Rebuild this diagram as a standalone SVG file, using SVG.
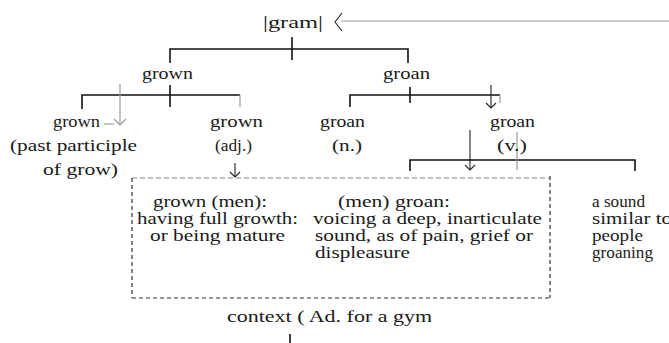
<svg xmlns="http://www.w3.org/2000/svg" width="669" height="343" viewBox="0 0 669 343">
  <style>
    text { font-family: "Liberation Serif", "Times New Roman", serif; font-size: 16px; fill: #1a1a1a; }
    .tree { stroke: #111; stroke-width: 1.6; fill: none; }
    .faint { stroke: #9a9a9a; stroke-width: 1.2; fill: none; }
    .thin { stroke: #222; stroke-width: 1.1; fill: none; }
    .box { stroke: #333; stroke-width: 1.2; fill: none; stroke-dasharray: 4 3; }
    .boxTop { stroke: #888; stroke-width: 1; fill: none; stroke-dasharray: 5 3; }
  </style>

  <rect width="669" height="343" fill="#fff"/>

  <g id="connectors">
    <!-- incoming pointer to the root -->
    <line class="faint" x1="341" y1="21" x2="669" y2="21"/>
    <path class="thin" d="M342,13 L335,22 L342,31"/>
    <!-- root split -->
    <line class="tree" x1="292" y1="37" x2="292" y2="60"/>
    <path class="tree" d="M170,63 V49 H408 V63"/>
    <!-- grown split -->
    <line class="tree" x1="170" y1="85" x2="170" y2="107"/>
    <path class="tree" d="M82,109 V95 H240"/>
    <line class="faint" x1="240" y1="95" x2="240" y2="107"/>
    <line class="faint" x1="120" y1="84" x2="120" y2="124"/>
    <line class="faint" x1="104" y1="124" x2="114" y2="124"/>
    <path class="faint" d="M114,119 L120,125 L126,119"/>
    <!-- groan split -->
    <line class="tree" x1="410" y1="87" x2="410" y2="103"/>
    <path class="tree" d="M350,107 V95 H500"/>
    <line class="faint" x1="500" y1="95" x2="500" y2="103"/>
    <line class="thin" x1="491" y1="85" x2="491" y2="108"/>
    <path class="thin" d="M486,103 L491,108 L496,103"/>
    <!-- grown (adj.) to its gloss -->
    <line class="thin" x1="235" y1="163" x2="235" y2="177"/>
    <path class="thin" d="M230,172 L235,177 L240,172"/>
    <!-- groan (v.) senses -->
    <line class="thin" x1="470" y1="130" x2="470" y2="170"/>
    <path class="thin" d="M465,165 L470,170 L475,165"/>
    <path class="tree" d="M410,171 V160 H635 V171"/>
    <line class="faint" x1="517" y1="132" x2="517" y2="170"/>
    <!-- out of the context line -->
    <line class="tree" x1="290" y1="334" x2="290" y2="343"/>
  </g>

  <g id="root">
    <text x="263" y="28" textLength="60" lengthAdjust="spacingAndGlyphs" font-size="17">|gram|</text>
  </g>

  <g id="grown">
    <text x="142" y="79" textLength="51" lengthAdjust="spacingAndGlyphs">grown</text>
  </g>

  <g id="groan">
    <text x="383" y="79" textLength="47" lengthAdjust="spacingAndGlyphs">groan</text>
  </g>

  <g id="grown-pp">
    <text x="53" y="127" textLength="47" lengthAdjust="spacingAndGlyphs">grown</text>
    <text x="10" y="151" textLength="127" lengthAdjust="spacingAndGlyphs">(past participle</text>
    <text x="43" y="175" textLength="75" lengthAdjust="spacingAndGlyphs">of grow)</text>
  </g>

  <g id="grown-adj">
    <text x="210" y="127" textLength="53" lengthAdjust="spacingAndGlyphs">grown</text>
    <text x="215" y="151" textLength="37" lengthAdjust="spacingAndGlyphs">(adj.)</text>
  </g>

  <g id="groan-n">
    <text x="320" y="127" textLength="45" lengthAdjust="spacingAndGlyphs">groan</text>
    <text x="332" y="151" textLength="30" lengthAdjust="spacingAndGlyphs">(n.)</text>
  </g>

  <g id="groan-v">
    <text x="490" y="127" textLength="45" lengthAdjust="spacingAndGlyphs">groan</text>
    <text x="497" y="151" textLength="30" lengthAdjust="spacingAndGlyphs">(v.)</text>
  </g>

  <g id="senses">
    <line class="boxTop" x1="132" y1="178" x2="550" y2="178"/>
    <line class="box" x1="132" y1="178" x2="132" y2="298"/>
    <line class="box" x1="550" y1="176" x2="550" y2="298"/>
    <line class="box" x1="132" y1="298" x2="550" y2="298"/>
  </g>

  <g id="grown-men">
    <text x="153" y="207" textLength="114" lengthAdjust="spacingAndGlyphs">grown (men):</text>
    <text x="137" y="224" textLength="161" lengthAdjust="spacingAndGlyphs">having full growth:</text>
    <text x="150" y="241" textLength="135" lengthAdjust="spacingAndGlyphs">or being mature</text>
  </g>

  <g id="men-groan">
    <text x="338" y="207" textLength="112" lengthAdjust="spacingAndGlyphs">(men) groan:</text>
    <text x="313" y="224" textLength="229" lengthAdjust="spacingAndGlyphs">voicing a deep, inarticulate</text>
    <text x="315" y="241" textLength="218" lengthAdjust="spacingAndGlyphs">sound, as of pain, grief or</text>
    <text x="315" y="258" textLength="95" lengthAdjust="spacingAndGlyphs">displeasure</text>
  </g>

  <g id="sound">
    <text x="592" y="207" textLength="53" lengthAdjust="spacingAndGlyphs">a sound</text>
    <text x="592" y="224" textLength="80" lengthAdjust="spacingAndGlyphs">similar to</text>
    <text x="592" y="241" textLength="51" lengthAdjust="spacingAndGlyphs">people</text>
    <text x="592" y="258" textLength="61" lengthAdjust="spacingAndGlyphs">groaning</text>
  </g>

  <g id="context">
    <text x="227" y="322" textLength="205" lengthAdjust="spacingAndGlyphs">context ( Ad. for a gym</text>
  </g>
</svg>
